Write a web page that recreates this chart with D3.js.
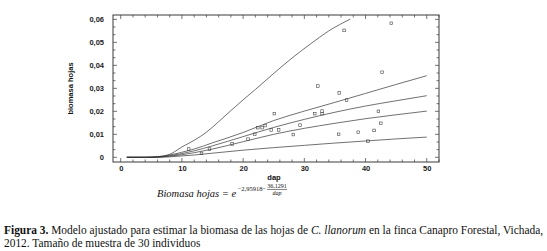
<!DOCTYPE html>
<html>
<head>
<meta charset="utf-8">
<script src="https://cdnjs.cloudflare.com/ajax/libs/d3/7.8.5/d3.min.js"></script>
<style>
  body { margin: 0; background: #fff; }
  svg { display: block; }
</style>
</head>
<body>
<svg id="chart"></svg>
<script>
// observed trees: dap vs leaf biomass
const pointDap = [11.1, 13.2, 14.5, 18.2, 20.8, 21.9, 22.4, 23.1, 23.6, 24.6, 25.1, 25.8, 28.2, 29.3,
                  31.7, 32.2, 32.9, 32.9, 35.6, 35.7, 36.5, 36.9, 38.8, 40.4, 41.4, 42.1, 42.5, 42.7, 44.2];
const pointBiomasa = [0.0036, 0.0017, 0.0036, 0.0058, 0.0079, 0.0100, 0.0129, 0.0129, 0.0138, 0.0119, 0.0190, 0.0119, 0.0099, 0.0140,
                      0.0190, 0.0310, 0.0201, 0.0190, 0.0100, 0.0280, 0.0552, 0.0249, 0.0109, 0.0070, 0.0117, 0.0200, 0.0148, 0.0370, 0.0583];

// curves
const curveDap = [1, 4, 6, 8, 10, 12, 15, 20, 25, 30, 35, 40, 45, 50];
const bandHigh = [0, 0, 0.0002, 0.0010, 0.0022, 0.0036, 0.0063, 0.0108, 0.0160, 0.0201, 0.0239, 0.0278, 0.0317, 0.0355];
const fitMid   = [0, 0, 0.0001, 0.0007, 0.0016, 0.0028, 0.0050, 0.0090, 0.0130, 0.0165, 0.0196, 0.0223, 0.0246, 0.0268];
const bandLow  = [0, 0, 0.0001, 0.0005, 0.0011, 0.0020, 0.0036, 0.0068, 0.0100, 0.0126, 0.0148, 0.0168, 0.0185, 0.0201];
const predLow  = [0, 0, 0, 0.0002, 0.0006, 0.0010, 0.0018, 0.0031, 0.0042, 0.0052, 0.0062, 0.0071, 0.0080, 0.0088];
const predHighDap = [1, 4, 6, 8, 10, 12, 14, 16, 18, 20, 22, 25, 28, 31, 34, 37.5];
const predHigh    = [0, 0, 0.0003, 0.0013, 0.0045, 0.0074, 0.0109, 0.0155, 0.0203, 0.0250, 0.0295, 0.0365, 0.0432, 0.0493, 0.0550, 0.0601];

const xTicks = [0, 10, 20, 30, 40, 50];
const yTicks = [0, 0.01, 0.02, 0.03, 0.04, 0.05, 0.06];
const yTickLabels = ["0", "0,01", "0,02", "0,03", "0,04", "0,05", "0,06"];

const W = 547, H = 251;
const frame = { left: 113, right: 439, top: 15, bottom: 162 };
const SANS = "'Liberation Sans', Arial, sans-serif";
const SERIF = "'Liberation Serif', 'Times New Roman', 'DejaVu Serif', serif";

const svg = d3.select("#chart").attr("width", W).attr("height", H);

const x = d3.scaleLinear().domain([-1.26, 52]).range([frame.left, frame.right]);
const y = d3.scaleLinear().domain([-0.00204, 0.0619]).range([frame.bottom, frame.top]);

const ink = "#3a3a3a";

// minor ticks
const xMinor = d3.range(0, 52.01, 2);
const yMinor = d3.range(0, 0.0619, 0.01 / 3);

const bottomAxis = d3.axisBottom(x).tickValues(xTicks).tickSize(0).tickPadding(4).tickFormat(d3.format("d"));
const leftAxis = d3.axisLeft(y).tickValues(yTicks).tickSize(0).tickPadding(9)
    .tickFormat((d, i) => yTickLabels[i]);

const gx = svg.append("g").attr("transform", `translate(0,${frame.bottom})`).call(bottomAxis);
const gy = svg.append("g").attr("transform", `translate(${frame.left},0)`).call(leftAxis);
[gx, gy].forEach(g => {
    g.select(".domain").remove();
    g.selectAll("text")
        .style("font-family", SANS)
        .style("font-weight", "bold")
        .style("font-size", "7.5px")
        .attr("fill", "#222");
});

// inward ticks on all four sides
const ticks = svg.append("g").attr("stroke", ink).attr("stroke-width", 0.7);
xMinor.forEach(v => {
    const len = (v % 10 === 0) ? 4 : 2.5;
    ticks.append("line").attr("x1", x(v)).attr("x2", x(v)).attr("y1", frame.bottom).attr("y2", frame.bottom - len);
    ticks.append("line").attr("x1", x(v)).attr("x2", x(v)).attr("y1", frame.top).attr("y2", frame.top + len);
});
yMinor.forEach((v, i) => {
    const len = (i % 3 === 0) ? 4 : 2.5;
    ticks.append("line").attr("y1", y(v)).attr("y2", y(v)).attr("x1", frame.left).attr("x2", frame.left + len);
    ticks.append("line").attr("y1", y(v)).attr("y2", y(v)).attr("x1", frame.right).attr("x2", frame.right - len);
});

svg.append("rect")
    .attr("x", frame.left).attr("y", frame.top)
    .attr("width", frame.right - frame.left).attr("height", frame.bottom - frame.top)
    .attr("fill", "none").attr("stroke", ink).attr("stroke-width", 1);

// curves
const line = d3.line().x(d => x(d[0])).y(d => y(d[1])).curve(d3.curveMonotoneX);
const curves = [
    curveDap.map((d, i) => [d, bandHigh[i]]),
    curveDap.map((d, i) => [d, fitMid[i]]),
    curveDap.map((d, i) => [d, bandLow[i]]),
    curveDap.map((d, i) => [d, predLow[i]]),
    predHighDap.map((d, i) => [d, predHigh[i]])
];
svg.append("g").selectAll("path")
    .data(curves)
    .enter().append("path")
    .attr("d", line)
    .attr("fill", "none")
    .attr("stroke", "#333")
    .attr("stroke-width", 0.7);

// points as small open squares
svg.append("g").selectAll("rect")
    .data(pointDap.map((d, i) => [d, pointBiomasa[i]]))
    .enter().append("rect")
    .attr("x", d => x(d[0]) - 1.3)
    .attr("y", d => y(d[1]) - 1.3)
    .attr("width", 2.6).attr("height", 2.6)
    .attr("fill", "none")
    .attr("stroke", "#444")
    .attr("stroke-width", 0.6);

// axis titles
function label(txt, family, size) {
    return svg.append("text")
        .style("font-family", family)
        .style("font-size", size + "px")
        .attr("fill", "#111")
        .text(txt);
}
label("dap", SANS, 7.5)
    .attr("x", 274).attr("y", 180)
    .attr("text-anchor", "middle")
    .style("font-weight", "bold");
label("biomasa hojas", SANS, 7.5)
    .attr("transform", `translate(73,${(frame.top + frame.bottom) / 2}) rotate(-90)`)
    .attr("text-anchor", "middle")
    .style("font-weight", "bold");

// formula
const main = label("Biomasa hojas =  e", SERIF, 10.5)
    .attr("x", 157).attr("y", 197)
    .style("font-style", "italic");
const ex = 157 + main.node().getComputedTextLength() + 1.5;
const expo = label("−2,95918−", SERIF, 6.5).attr("x", ex).attr("y", 191);
const fx = ex + expo.node().getComputedTextLength() + 11;
label("36,1291", SERIF, 6).attr("x", fx).attr("y", 188).attr("text-anchor", "middle");
svg.append("line")
    .attr("x1", fx - 10).attr("x2", fx + 10).attr("y1", 189.5).attr("y2", 189.5)
    .attr("stroke", "#111").attr("stroke-width", 0.5);
label("dap", SERIF, 6).attr("x", fx).attr("y", 195).attr("text-anchor", "middle")
    .style("font-style", "italic");

// caption
const cap1 = label("", SERIF, 10.5).attr("x", 4).attr("y", 234);
cap1.append("tspan").style("font-weight", "bold").text("Figura 3.");
cap1.append("tspan").text(" Modelo ajustado para estimar la biomasa de las hojas de ");
cap1.append("tspan").style("font-style", "italic").text("C. llanorum");
cap1.append("tspan").text(" en la finca Canapro Forestal, Vichada,");
const cap2 = label("2012. Tamaño de muestra de 30 individuos", SERIF, 10.5).attr("x", 4).attr("y", 247);

// fit the caption to the width used in the figure
const capSize = 10.5 * 540 / cap1.node().getComputedTextLength();
cap1.style("font-size", capSize + "px");
cap2.style("font-size", capSize + "px");
</script>
</body>
</html>
